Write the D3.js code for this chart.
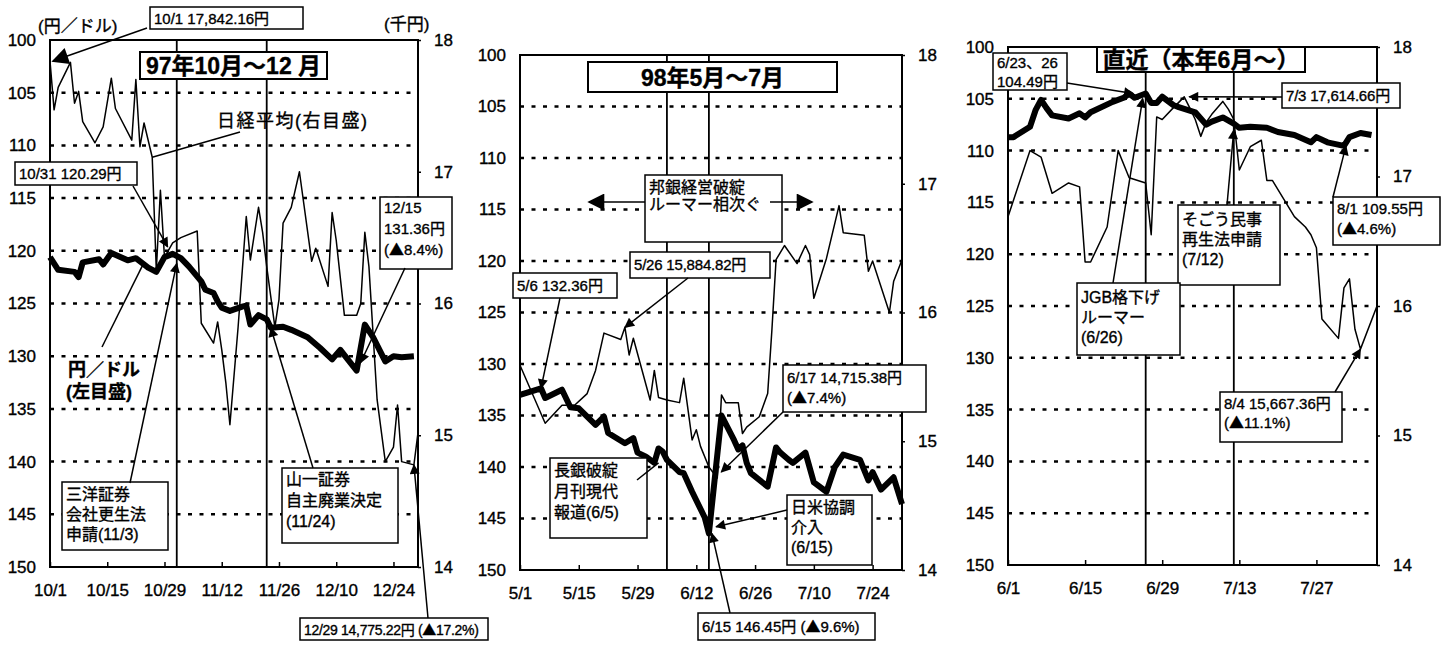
<!DOCTYPE html>
<html>
<head>
<meta charset="utf-8">
<script src="https://cdn.jsdelivr.net/npm/d3@7"></script>
<style>
body{margin:0;background:#fff;}
text{font-family:"Liberation Sans",Arial,"Noto Sans CJK JP",sans-serif;fill:#000;}
text.w{stroke:#000;stroke-width:0.35px;}
.jp{font-family:"Noto Sans CJK JP",sans-serif;}
</style>
</head>
<body>
<svg id="chart" width="1448" height="645"></svg>
<script>
// ---- panel 1 : 97年10月～12月 ----
var p1YenDates=["10/1","10/3","10/7","10/8","10/9","10/13","10/14","10/16","10/20","10/22","10/25","10/27","10/29","10/31","11/2","11/4","11/7","11/8","11/10","11/11","11/12","11/14","11/17","11/18","11/19","11/21","11/23","11/24","11/27","11/29","12/3","12/6","12/9","12/11","12/12","12/15","12/17","12/19","12/22","12/24","12/26","12/29"];
var p1YenVals=[120.6,121.8,122.0,122.5,121.1,120.8,121.3,120.2,120.9,120.7,121.6,122.0,120.6,120.29,120.7,121.5,122.9,123.7,124.0,124.8,125.4,125.7,125.3,125.2,127.0,126.1,126.5,127.3,127.2,127.5,128.2,129.2,130.3,129.4,129.9,131.36,127.0,128.2,130.5,130.0,130.1,130.0];
var p1NkDates=["10/1","10/2","10/3","10/6","10/7","10/8","10/9","10/12","10/14","10/16","10/17","10/21","10/22","10/23","10/24","10/26","10/27","10/28","10/29","10/31","11/2","11/6","11/7","11/10","11/11","11/12","11/13","11/14","11/16","11/18","11/19","11/21","11/22","11/23","11/25","11/26","11/27","11/29","12/1","12/4","12/5","12/8","12/9","12/10","12/12","12/15","12/16","12/17","12/18","12/20","12/22","12/24","12/25","12/26","12/29","12/30"];
var p1NkVals=[17.84,17.47,17.64,17.83,17.52,17.61,17.38,17.22,17.34,17.71,17.48,17.24,17.70,17.19,17.37,17.11,16.25,16.86,16.35,16.46,16.50,16.55,15.85,15.70,15.86,15.65,15.40,15.08,15.82,16.66,16.33,16.73,16.54,16.28,15.82,16.03,16.61,16.73,17.0,16.32,16.42,16.13,16.69,16.48,15.91,15.91,16.0,16.54,16.28,15.27,14.80,14.91,15.23,14.80,14.775,15.02];
var p1Ticks=["10/1","10/15","10/29","11/12","11/26","12/10","12/24"];
var p1Events=["11/1","11/23"];

// ---- panel 2 : 98年5月～7月 ----
var p2YenDates=["5/1","5/6","5/7","5/11","5/13","5/15","5/19","5/21","5/22","5/26","5/28","5/29","5/31","6/2","6/3","6/4","6/5","6/8","6/9","6/11","6/14","6/15","6/18","6/21","6/22","6/23","6/24","6/25","6/29","7/1","7/2","7/4","7/5","7/8","7/10","7/13","7/15","7/17","7/21","7/23","7/24","7/26","7/29","7/31"];
var p2YenVals=[133.0,132.36,133.3,132.5,134.2,134.3,135.9,135.1,136.7,137.7,137.2,138.6,139.0,139.6,138.2,138.5,139.3,140.5,140.6,142.4,144.9,146.45,135.0,137.4,138.3,137.9,139.6,140.6,141.9,138.1,138.6,139.3,139.6,138.6,141.5,142.4,140.0,138.8,139.3,141.3,140.5,142.2,141.0,143.6];
var p2NkDates=["5/1","5/7","5/11","5/14","5/17","5/19","5/21","5/25","5/26","5/27","5/28","6/1","6/2","6/3","6/5","6/8","6/9","6/11","6/12","6/13","6/15","6/17","6/18","6/19","6/22","6/23","6/24","6/27","6/29","6/30","7/1","7/3","7/6","7/8","7/9","7/10","7/13","7/16","7/17","7/22","7/23","7/24","7/28","7/29","7/31"];
var p2NkVals=[15.59,15.14,15.28,15.28,15.37,15.55,15.84,15.79,15.885,15.67,15.80,15.32,15.55,15.34,15.32,15.30,15.49,15.01,15.09,14.96,14.80,14.715,15.36,15.30,15.30,15.06,15.11,15.19,15.37,15.86,16.41,16.52,16.38,16.52,16.45,16.11,16.42,16.83,16.62,16.60,16.32,16.40,16.0,16.24,16.41];
var p2Ticks=["5/1","5/15","5/29","6/12","6/26","7/10","7/24"];
var p2Events=["6/5","6/15"];

// ---- panel 3 : 直近（本年6月～） ----
var p3YenDates=["6/1","6/2","6/5","6/6","6/7","6/8","6/9","6/12","6/14","6/15","6/16","6/20","6/22","6/23","6/24","6/26","6/27","6/28","6/29","7/1","7/2","7/5","7/7","7/8","7/10","7/12","7/13","7/15","7/18","7/20","7/23","7/26","7/27","7/29","8/1","8/2","8/4","8/6"];
var p3YenVals=[108.7,108.7,107.7,106.1,105.1,105.9,106.6,106.9,106.4,106.8,106.3,105.3,104.9,104.49,104.9,104.49,105.4,105.4,104.8,105.6,105.8,106.3,107.5,107.2,106.8,107.4,107.8,107.7,107.8,108.2,108.5,109.2,108.7,109.2,109.55,108.7,108.3,108.5];
var p3NkDates=["6/1","6/5","6/7","6/9","6/12","6/14","6/15","6/16","6/19","6/21","6/23","6/26","6/27","6/28","6/29","7/1","7/3","7/4","7/5","7/6","7/7","7/8","7/10","7/11","7/12","7/13","7/15","7/17","7/18","7/19","7/23","7/25","7/26","7/27","7/28","7/31","8/1","8/2","8/3","8/4","8/7"];
var p3NkVals=[16.69,17.20,17.15,16.87,16.95,16.92,16.34,16.34,16.61,17.20,16.99,16.95,16.55,17.46,17.44,17.53,17.615,17.53,17.44,17.31,17.42,17.48,17.58,17.52,17.44,17.05,17.23,17.28,16.97,16.97,16.69,16.61,16.55,16.45,15.90,15.75,16.14,16.21,15.82,15.667,16.0];
var p3Ticks=["6/1","6/15","6/29","7/13","7/27"];
var p3Events=["6/26","7/12"];

var yenTicks=[100,105,110,115,120,125,130,135,140,145,150];
var nkTicks=[14,15,16,17,18];
var gridVals=[105,110,115,120,125,130,135,140,145];

var parse=d3.timeParse("%Y/%m/%d");
var svg=d3.select("#chart");
svg.append("rect").attr("width",1448).attr("height",645).attr("fill","#fff");
var defs=svg.append("defs");
function marker(id,w,h){
	defs.append("marker").attr("id",id).attr("viewBox","0 0 10 10").attr("refX",9).attr("refY",5)
		.attr("markerUnits","userSpaceOnUse").attr("markerWidth",w).attr("markerHeight",h).attr("orient","auto")
		.append("path").attr("d","M0,0L10,5L0,10Z").attr("fill","#000");
}
marker("arr",14,10);
marker("arrBig",22,17);

function drawPanel(p){
	var g=svg.append("g");
	var dd=function(md){return parse(p.year+"/"+md);};
	var x=d3.scaleTime().domain([dd(p.start),dd(p.end)]).range([p.left,p.right]);
	var yL=d3.scaleLinear().domain([100,150]).range([p.top,p.bottom]);
	var yR=d3.scaleLinear().domain([14,18]).range([p.bottom,p.top]);
	//dotted grid
	g.selectAll(".grid").data(gridVals).join("line")
		.attr("x1",p.left).attr("x2",p.right).attr("y1",function(v){return yL(v);}).attr("y2",function(v){return yL(v);})
		.attr("stroke","#000").attr("stroke-width",2.5).attr("stroke-dasharray","4,7.5");
	//event lines
	g.selectAll(".ev").data(p.events).join("line")
		.attr("x1",function(d){return x(dd(d));}).attr("x2",function(d){return x(dd(d));})
		.attr("y1",p.top).attr("y2",p.bottom).attr("stroke","#000").attr("stroke-width",1.8);
	//nikkei (right scale), thin
	var nk=p.nkDates.map(function(d,i){return [x(dd(d)),yR(p.nkVals[i])];});
	g.append("path").attr("d",d3.line()(nk)).attr("fill","none").attr("stroke","#000").attr("stroke-width",1.5).attr("stroke-linejoin","round");
	//yen/dollar (left scale), thick
	var yen=p.yenDates.map(function(d,i){return [x(dd(d)),yL(p.yenVals[i])];});
	g.append("path").attr("d",d3.line()(yen)).attr("fill","none").attr("stroke","#000").attr("stroke-width",6).attr("stroke-linejoin","round");
	//frame
	g.append("rect").attr("x",p.left).attr("y",p.top).attr("width",p.right-p.left).attr("height",p.bottom-p.top)
		.attr("fill","none").attr("stroke","#000").attr("stroke-width",2);
	//axes
	var ax=g.append("g").attr("transform","translate(0,"+p.bottom+")")
		.call(d3.axisBottom(x).tickValues(p.ticks.map(dd)).tickFormat(function(d,i){return p.ticks[i];}).tickSizeInner(-5).tickSizeOuter(0).tickPadding(17));
	var al=g.append("g").attr("transform","translate("+p.left+",0)")
		.call(d3.axisLeft(yL).tickValues(yenTicks).tickSize(0).tickPadding(14));
	var ar=g.append("g").attr("transform","translate("+p.right+",0)")
		.call(d3.axisRight(yR).tickValues(nkTicks).tickFormat(d3.format("d")).tickSizeInner(3).tickSizeOuter(0).tickPadding(13));
	[ax,al,ar].forEach(function(a){
		a.select(".domain").remove();
		a.selectAll("line").attr("stroke","#000").attr("stroke-width",1.5);
		a.selectAll("text").attr("class","w").attr("font-size",17).attr("font-family","'Liberation Sans',Arial,sans-serif").attr("fill","#000");
	});
	return {g:g,x:function(md){return x(dd(md));},yL:yL,yR:yR};
}

// writes a line, drawing ▲ with the CJK font
function fillLine(t,s,tx,ty){
	var parts=s.split("▲");
	parts.forEach(function(part,i){
		var sp=t.append("tspan").text(part);
		if(i===0){sp.attr("x",tx).attr("y",ty);}
		if(i<parts.length-1){t.append("tspan").attr("class","jp").text("▲");}
	});
}
function box(g,bx,by,bw,bh,lines,o){
	o=o||{};
	g.append("rect").attr("x",bx).attr("y",by).attr("width",bw).attr("height",bh)
		.attr("fill","#fff").attr("stroke","#000").attr("stroke-width",o.sw||1.5);
	lines.forEach(function(s,i){
		var t=g.append("text").attr("class","w").attr("font-size",o.size||15).attr("font-weight",o.bold?"bold":null);
		if(o.center){t.attr("text-anchor","middle");}
		if(o.ls){t.attr("letter-spacing",o.ls);}
		fillLine(t,s,o.center?bx+bw/2:bx+4,by+(o.base||17)+i*(o.lh||20));
	});
}
function arrow(g,x1,y1,x2,y2,head){
	var l=g.append("line").attr("x1",x1).attr("y1",y1).attr("x2",x2).attr("y2",y2).attr("stroke","#000").attr("stroke-width",1.5);
	if(head){l.attr("marker-end","url(#"+head+")");}
}
function label(g,tx,ty,s,size,bold,ls){
	g.append("text").attr("class","w").attr("x",tx).attr("y",ty).attr("font-size",size).attr("font-weight",bold?"bold":null)
		.attr("letter-spacing",ls||null).text(s);
}

// ----- panel 1 -----
var P1=drawPanel({year:1997,start:"10/1",end:"12/30",left:50,right:418,top:40,bottom:567,
	yenDates:p1YenDates,yenVals:p1YenVals,nkDates:p1NkDates,nkVals:p1NkVals,ticks:p1Ticks,events:p1Events});
var g1=P1.g;
label(g1,38,32,"(円／ドル)",17);
label(g1,384,30,"(千円)",17);
label(g1,217,127,"日経平均(右目盛)",18,false,1.5);
arrow(g1,240,132,P1.x("10/26"),P1.yR(17.11));
label(g1,68,376,"円／ドル",18,true);
label(g1,66,398,"(左目盛)",18,true);
arrow(g1,102,347,P1.x("10/24"),P1.yL(121.1));
box(g1,140,52,187,27,["97年10月～12 月"],{size:23,bold:true,center:true,base:22,sw:2});
box(g1,150,7,153,22,["10/1 17,842.16円"],{base:17});
arrow(g1,147,28,P1.x("10/1")+3,P1.yR(17.84),"arrBig");
box(g1,15,162,122,23,["10/31 120.29円"],{base:17});
arrow(g1,133,186,P1.x("10/31")-5,P1.yL(120.29)-7,"arr");
box(g1,380,197,72,72,["12/15","131.36円","(▲8.4%)"],{base:16,lh:21});
arrow(g1,405,268,P1.x("12/15")+4,P1.yL(131.36)-8,"arr");
box(g1,62,482,106,68,["三洋証券","会社更生法","申請(11/3)"],{size:16,base:18,lh:20});
arrow(g1,130,483,P1.x("11/1"),P1.yL(121.2),"arr");
box(g1,282,468,116,75,["山一証券","自主廃業決定","(11/24)"],{size:16,base:17,lh:21});
arrow(g1,313,468,P1.x("11/24"),P1.yL(127.3),"arr");
box(g1,300,618,188,22,["12/29 14,775.22円 (▲17.2%)"],{size:14,base:17,ls:-0.3});
arrow(g1,428,618,P1.x("12/29"),P1.yR(14.775),"arr");

// ----- panel 2 -----
var P2=drawPanel({year:1998,start:"5/1",end:"7/31",left:520,right:902,top:55,bottom:570,
	yenDates:p2YenDates,yenVals:p2YenVals,nkDates:p2NkDates,nkVals:p2NkVals,ticks:p2Ticks,events:p2Events});
var g2=P2.g;
box(g2,588,62,249,30,["98年5月～7月"],{size:23,bold:true,center:true,base:24,sw:2});
box(g2,645,175,137,67,["邦銀経営破綻","ルーマー相次ぐ"],{size:16,base:18,lh:17});
arrow(g2,645,202,589,202,"arrBig");
arrow(g2,770,202,812,202,"arrBig");
box(g2,513,273,104,25,["5/6 132.36円"],{base:18});
arrow(g2,560,298,P2.x("5/6"),P2.yL(132.36),"arr");
box(g2,630,252,140,26,["5/26 15,884.82円"],{base:18,ls:-0.2});
arrow(g2,688,278,P2.x("5/26"),P2.yR(15.885),"arr");
box(g2,783,365,143,47,["6/17 14,715.38円"," (▲7.4%)"],{base:18,lh:20});
arrow(g2,783,412,P2.x("6/17")+4,P2.yR(14.715)-6,"arr");
box(g2,550,458,97,80,["長銀破綻","月刊現代","報道(6/5)"],{size:16,base:18,lh:21});
arrow(g2,637,480,P2.x("6/3"),P2.yL(139.6));
box(g2,787,495,85,70,["日米協調","介入","(6/15)"],{size:16,base:18,lh:20});
arrow(g2,787,510,P2.x("6/16")+3,P2.yL(145.8),"arr");
box(g2,698,613,177,27,["6/15 146.45円 (▲9.6%)"],{base:19});
arrow(g2,730,613,P2.x("6/15")+3,P2.yL(146.45),"arr");

// ----- panel 3 -----
var P3=drawPanel({year:2000,start:"6/1",end:"8/7",left:1008,right:1377,top:47,bottom:565,
	yenDates:p3YenDates,yenVals:p3YenVals,nkDates:p3NkDates,nkVals:p3NkVals,ticks:p3Ticks,events:p3Events});
var g3=P3.g;
box(g3,1097,47,208,25,["直近（本年6月～）"],{size:23,bold:true,center:true,base:21,sw:2});
box(g3,993,53,74,37,["6/23、26","104.49円"],{base:15,lh:19});
arrow(g3,1067,83,P3.x("6/23")+4,P3.yL(104.49),"arr");
box(g3,1282,83,118,25,["7/3 17,614.66円"],{base:18,ls:-0.2});
arrow(g3,1282,97,P3.x("7/3")+5,P3.yR(17.615),"arr");
box(g3,1333,197,107,48,["8/1 109.55円"," (▲4.6%)"],{base:17,lh:20});
arrow(g3,1333,197,P3.x("8/1")+2,P3.yL(109.55),"arr");
box(g3,1178,205,102,80,["そごう民事","再生法申請","(7/12)"],{size:16,base:20,lh:20});
arrow(g3,1227,205,P3.x("7/12"),P3.yL(108),"arr");
box(g3,1077,283,103,72,["JGB格下げ","ルーマー","(6/26)"],{size:16,base:20,lh:20});
arrow(g3,1113,283,P3.x("6/26")-3,P3.yL(104.49)+5,"arr");
box(g3,1220,392,122,50,["8/4 15,667.36円"," (▲11.1%)"],{base:17,lh:19});
arrow(g3,1335,392,P3.x("8/4"),P3.yR(15.667),"arr");
</script>
</body>
</html>
